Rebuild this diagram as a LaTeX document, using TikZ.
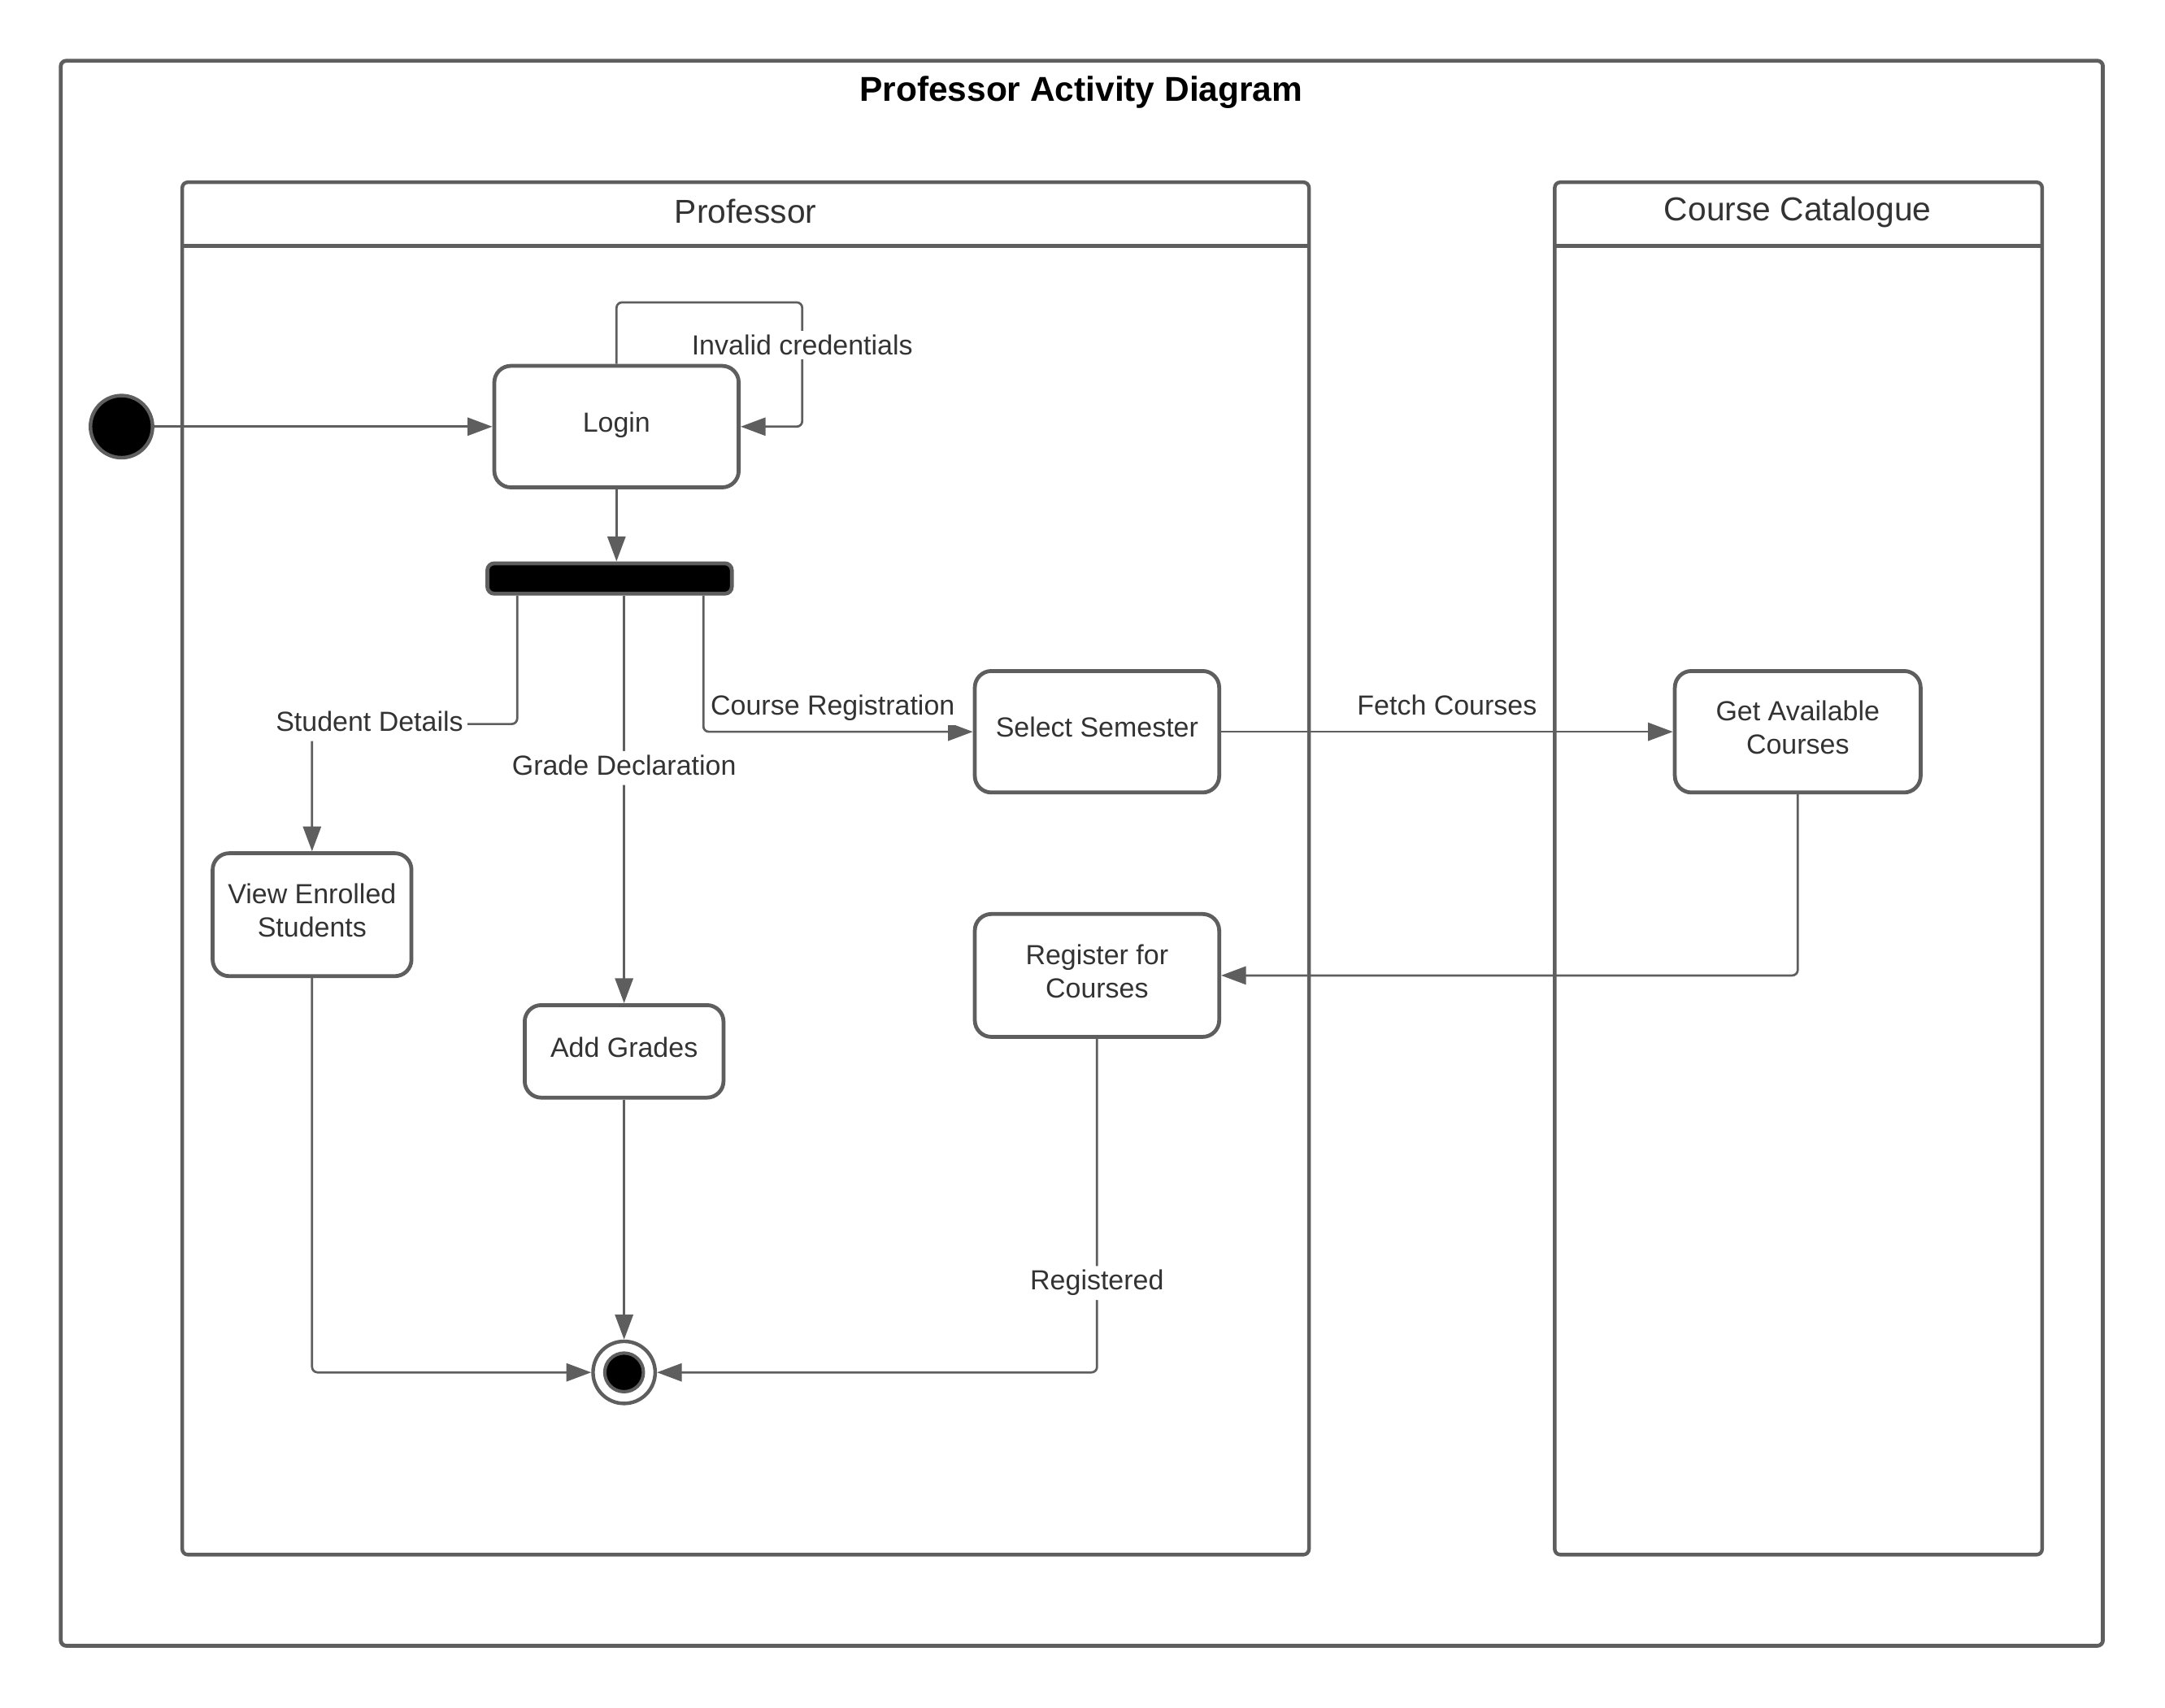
\documentclass[tikz,border=0pt]{standalone}
\usepackage{fontspec}
\setmainfont{Liberation Sans}
\usetikzlibrary{arrows.meta}

\definecolor{linegray}{HTML}{5E5E5E}
\definecolor{textgray}{HTML}{333333}

\tikzset{
  lane/.style={draw=linegray, line width=1.3pt, rounded corners=2pt},
  head/.style={text=textgray, font=\fontsize{12}{14}\selectfont},
  activity/.style={draw=linegray, line width=1.4pt, rounded corners=6pt, fill=white,
    text=textgray, font=\fontsize{10}{12}\selectfont, align=center, inner sep=0pt,
    text height=7pt, text depth=3pt},
  twoline/.style={text height=19pt, text depth=3pt},
  initial/.style={circle, draw=linegray, line width=1.3pt, fill=black, minimum size=22.5pt, inner sep=0pt},
  forkbar/.style={draw=linegray, line width=1.4pt, fill=black, rounded corners=2.5pt,
    minimum width=88.5pt, minimum height=11pt, inner sep=0pt},
  flow/.style={draw=linegray, line width=0.8pt, rounded corners=2pt, -{Triangle[length=9pt,width=6.5pt]}},
  lbl/.style={fill=white, text=textgray, font=\fontsize{10}{12}\selectfont, inner sep=1.5pt,
    text height=7.2pt, text depth=2.1pt},
}

\begin{document}
\begin{tikzpicture}[x=0.5pt, y=-0.5pt]
  \useasboundingbox (0,0) rectangle (1568,1236.5);

  % frame and swimlanes
  \draw[lane, line width=1.4pt] (44,44) rectangle (1523,1192);
  \node[font=\fontsize{12.5}{15}\selectfont\bfseries] (title) at (783,67) {Professor Activity Diagram};
  \draw[lane] (132,132) rectangle (948,1126);
  \draw[lane] (132,178) -- (948,178);
  \node[head] (proflane) at (540,153) {Professor};
  \draw[lane] (1126,132) rectangle (1479,1126);
  \draw[lane] (1126,178) -- (1479,178);
  \node[head] (catlane) at (1302,153.5) {Course Catalogue};

  % activities
  \node[initial] (start) at (88,309) {};
  \node[activity, minimum width=88.5pt, minimum height=44pt] (login) at (446.5,309) {Login};
  \node[forkbar] (bar) at (441.5,419) {};
  \node[activity, twoline, minimum width=72pt, minimum height=44.5pt] (view) at (226,662.5) {View Enrolled\\Students};
  \node[activity, minimum width=72pt, minimum height=33.5pt] (addg) at (452,761.5) {Add Grades};
  \node[activity, minimum width=88.5pt, minimum height=44pt] (selsem) at (794.5,530) {Select Semester};
  \node[activity, twoline, minimum width=89pt, minimum height=44pt] (getav) at (1302,530) {Get Available\\Courses};
  \node[activity, twoline, minimum width=88.5pt, minimum height=44.5pt] (register) at (794.5,706.5) {Register for\\Courses};
  \node[circle, draw=linegray, line width=1.3pt, fill=white, minimum size=22.5pt, inner sep=0pt] (final) at (452,994) {};
  \node[circle, draw=linegray, line width=1.2pt, fill=black, minimum size=14pt, inner sep=0pt] (finaldot) at (final) {};

  % transitions
  \coordinate (loopc) at (581,219);
  \draw[flow] (start) -- (login);
  \draw[flow] (login.north) |- (loopc) |- node[lbl, text depth=0pt, pos=0.172] {Invalid credentials} (login.east);
  \draw[flow] (login.south) -- (login.south |- bar.north);
  \draw[flow] ([xshift=11.5pt]bar.south west) -- ++(0,93) -| node[lbl, pos=0.36] {Student Details} (view.north);
  \draw[flow] (addg.north |- bar.south) -- node[lbl, pos=0.423] {Grade Declaration} (addg.north);
  \draw[flow] ([xshift=-11pt]bar.south east) |- node[lbl, pos=0.74, above, yshift=2pt] {Course Registration} (selsem.west);
  \draw[flow] (selsem) -- node[lbl, above, yshift=2pt] {Fetch Courses} (getav);
  \draw[flow] (getav.south) |- (register.east);
  \draw[flow] (view.south) |- (final.west);
  \draw[flow] (addg.south) -- (final.north);
  \draw[flow] (register.south) |- node[lbl, pos=0.366] {Registered} (final.east);
\end{tikzpicture}
\end{document}
